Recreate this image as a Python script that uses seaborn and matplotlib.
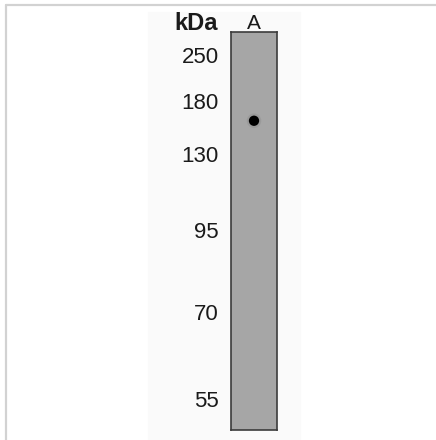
"""Western blot lane with molecular weight ladder."""

import matplotlib
matplotlib.use("Agg")
import matplotlib.pyplot as plt
from matplotlib.lines import Line2D
import pandas as pd
import seaborn as sns

# ladder (kDa) and relative migration down the lane (0 = top, 1 = bottom)
marker_kda = ["250", "180", "130", "95", "70", "55"]
marker_pos = [0.058, 0.173, 0.307, 0.497, 0.704, 0.922]

lanes = ["A"]
lane_length = [1.0]

# detected band
band_lane = ["A"]
band_pos = [0.223]

sns.set_theme(style="white")
plt.rcParams["font.family"] = ["Liberation Sans", "DejaVu Sans"]

fig = plt.figure(figsize=(4.36, 4.40), dpi=100)
fig.patch.set_facecolor("white")
# faint panel behind the blot
fig.add_artist(plt.Rectangle((148 / 436, 0), 152 / 436, 1 - 12 / 440,
                             transform=fig.transFigure, color="#fafafa", zorder=0))
# outer frame (top and left)
fig.add_artist(Line2D([6 / 436, 1], [1 - 5 / 440, 1 - 5 / 440], color="#d2d2d2", lw=1.6))
fig.add_artist(Line2D([6 / 436, 6 / 436], [0, 1 - 5 / 440], color="#d2d2d2", lw=1.6))

ax = fig.add_axes([231 / 436, 1 - 430 / 440, 46 / 436, 398 / 440])
lane_df = pd.DataFrame({"lane": lanes, "length": lane_length})
sns.barplot(data=lane_df, x="lane", y="length", color="#a6a6a6", width=1.0,
            saturation=1, edgecolor="none", ax=ax)

band_df = pd.DataFrame({"lane": band_lane, "pos": band_pos})
sns.scatterplot(data=band_df, x="lane", y="pos", s=110, color="#7a7a7a", alpha=0.25,
                edgecolor="none", ax=ax, legend=False)
sns.scatterplot(data=band_df, x="lane", y="pos", s=55, color="black",
                edgecolor="none", ax=ax, legend=False)

ax.set_xlim(-0.5, 0.5)
ax.set_ylim(1, 0)
ax.set_xlabel("")
ax.set_ylabel("")
ax.set_facecolor("#a6a6a6")
for sp in ax.spines.values():
    sp.set_visible(True)
    sp.set_color("#3c3c3c")
    sp.set_linewidth(1.2)

ax.set_yticks(marker_pos, labels=marker_kda)
ax.tick_params(axis="y", length=0, pad=9, labelsize=16, labelcolor="#1a1a1a")
ax.xaxis.tick_top()
ax.set_xticks([0], labels=lanes)
ax.tick_params(axis="x", length=0, pad=-1, labelsize=15, labelcolor="#1a1a1a")

ax.text(-0.28, 1.022, "kDa", transform=ax.transAxes, ha="right", va="center",
        fontsize=17, fontweight="bold", color="#1a1a1a")

fig.savefig("out.png", dpi=100)
